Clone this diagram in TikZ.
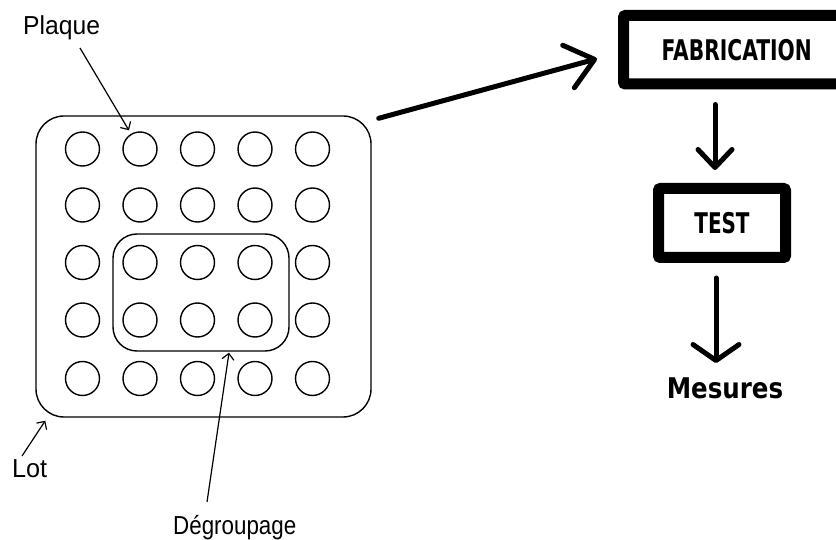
\documentclass[tikz,border=0pt]{standalone}
\usepackage{fontspec}
\setmainfont{Liberation Sans}
\newfontfamily\heavyfont{DejaVu Sans}
\usetikzlibrary{arrows.meta,calc}
\begin{document}
\begin{tikzpicture}[x=1pt,y=-1pt,
  outline/.style={draw,line width=1.4pt,inner sep=0pt},
  wafer/.style={circle,draw,line width=1.4pt,minimum size=34pt,inner sep=0pt},
  heavy/.style={font=\fontsize{28.5}{28.5}\heavyfont\bfseries},
  stepbox/.style={draw,line width=11pt,rounded corners=2pt,inner sep=0pt,heavy},
  tag/.style={inner sep=0pt,anchor=base west,font=\fontsize{26}{26}\selectfont},
  pointer/.style={line width=1.2pt,-{Straight Barb[length=6pt,width=12pt]}},
  flow/.style={line width=5pt,line cap=round}
]
\useasboundingbox (0,0) rectangle (836,540);

% lot of wafers
\node[outline,rounded corners=28pt,minimum width=335pt,minimum height=301pt] (lot) at (203.5,266.5) {};
\node[outline,rounded corners=24pt,minimum width=176pt,minimum height=117pt] (grp) at (201,292.5) {};
\foreach \i/\yy in {1/149,2/205,3/262.5,4/320,5/378.5}
  \foreach \j/\xx in {1/82.5,2/140,3/197.5,4/255,5/312.5}
    \node[wafer] (c-\i-\j) at (\xx,\yy) {};

% labels
\node[tag] (plaque) at (23,35) {\scalebox{0.95}[1]{Plaque}};
\node[tag] (lotname) at (12,477) {\scalebox{0.97}[1]{Lot}};
\node[tag] (degr) at (173,534) {\scalebox{0.86}[1]{Dégroupage}};

\coordinate (pq) at (80,48);
\coordinate (lt) at (22,456);
\coordinate (dg) at (207,502);
\draw[pointer,shorten >=4pt] (pq) -- (c-1-2);
\draw[pointer] (lt) -- ($(lot.south west)+(10,3)$);
\draw[pointer] (dg) -- ($(grp.south)+(28,1)$);

% process steps
\node[stepbox,minimum width=226.5pt,minimum height=68.5pt] (fab) at (736.75,49.75) {\scalebox{0.71}[1]{FABRICATION}};
\node[stepbox,minimum width=127pt,minimum height=69pt] (test) at (722,223) {\scalebox{0.70}[1]{TEST}};
\node[inner sep=0pt,anchor=base,heavy] (mes) at (725,398) {\scalebox{0.86}[1]{Mesures}};

\draw[flow,-{Straight Barb[length=27pt,width=44pt,round]}]
  ($(lot.north east)+(7,3)$) -- ($(fab.west)+(-21,9)$);
\draw[flow,-{Straight Barb[length=18pt,width=34pt,round]}]
  ($(fab.south -| test.north)+(-7,15)$) -- ($(test.north)+(-7,-13)$);
\draw[flow,-{Straight Barb[length=16pt,width=46pt,round]}]
  ($(test.south)+(-6,15)$) -- ($(mes.north -| test.south)+(-6,-14)$);
\end{tikzpicture}
\end{document}
